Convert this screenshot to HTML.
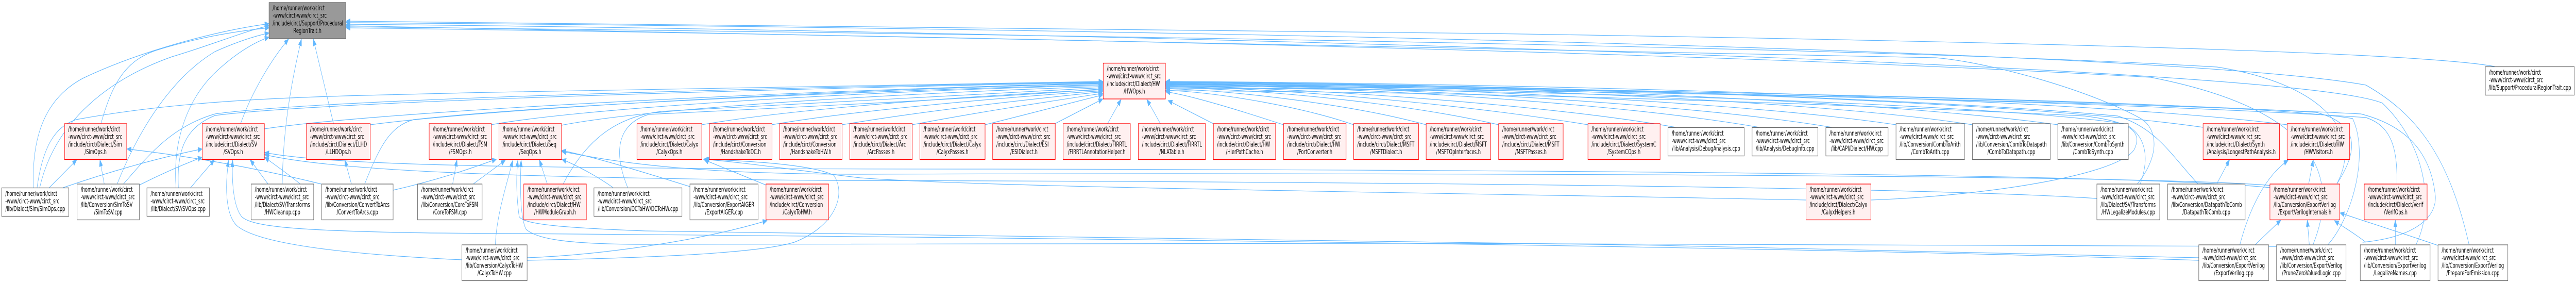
<!DOCTYPE html>
<html>
<head>
<meta charset="utf-8">
<style>
html,body{margin:0;padding:0;background:#fff;width:100%;height:100%;overflow:hidden;}
svg{position:absolute;left:0;top:0;width:100%;height:100%;display:block;}
.r{fill:#fff0f0;stroke:#ff0000;stroke-width:1.3;}
.g{fill:#ffffff;stroke:#666666;stroke-width:1.3;}
.m{fill:#999999;stroke:#666666;stroke-width:1.3;}
text{font-family:"DejaVu Sans","Liberation Sans",sans-serif;font-size:13px;fill:#000;}
.c{text-anchor:middle;}
.e path{fill:none;stroke:#63b8ff;stroke-width:1.2;marker-end:url(#a);}
</style>
</head>
<body>
<svg viewBox="0 0 7785 549" preserveAspectRatio="none" xmlns="http://www.w3.org/2000/svg">
<defs>
<marker id="a" markerWidth="14" markerHeight="11" refX="13" refY="5" orient="auto" markerUnits="userSpaceOnUse">
<path d="M0,0 L13,5 L0,10 z" fill="#63b8ff" stroke="#63b8ff" stroke-width="1"/>
</marker>
</defs>
<rect width="7785" height="549" fill="#fff"/>

<g class="e">
<!-- to main node: left side -->
<path d="M101,364 C95,260 140,190 250,152 C420,100 650,60 813,46"/>
<path d="M305,240 C340,160 380,118 470,98 C600,72 720,60 813,54"/>
<path d="M354,357 C420,250 520,150 650,100 C720,80 770,70 813,64"/>
<path d="M532,364 C520,260 580,180 660,135 C720,100 770,82 813,72"/>
<path d="M120,364 C160,250 300,160 520,110 C650,85 740,60 813,50"/>
<!-- to main node: bottom -->
<path d="M727,240 C760,180 820,115 872,76"/>
<path d="M853,357 C855,250 880,160 911,76"/>
<path d="M1008,240 L947,76"/>
<!-- to main node: right -->
<path d="M7539,129 C7300,100 6000,80 4500,65 C3000,50 1800,42 1046,41"/>
<path d="M7462,475 C7400,300 7300,220 7150,165 C6500,90 3000,52 1046,44"/>
<path d="M7301,475 C7360,400 7330,280 7200,200 C6900,120 3000,58 1046,47"/>
<path d="M6459,357 C6530,300 6520,250 6470,230 C6300,170 6000,120 5850,112 C4000,80 2500,58 1046,50"/>
<path d="M7062,357 C7150,250 7000,160 6700,130 C5500,85 2500,62 1046,52"/>
<path d="M6990,475 C7100,300 6900,200 6500,150 C5000,95 2500,66 1046,54"/>

<!-- to HWOps.h left -->
<path d="M112,364 C130,280 170,245 230,232 C500,200 800,190 1100,185 C2000,170 3000,160 3333,158"/>
<path d="M373,357 C450,300 520,245 650,221 C1000,190 2500,168 3333,159"/>
<path d="M539,364 C535,300 550,250 650,224 C1000,195 2500,170 3333,160"/>
<path d="M799,250 C1100,220 2200,180 3333,161"/>
<path d="M1119,242 C1500,210 2500,175 3333,162"/>
<path d="M1102,357 C1150,280 1180,245 1250,232 C1700,200 2700,175 3333,164"/>
<path d="M1484,242 C1800,205 2800,172 3333,166"/>
<path d="M1697,243 C2000,205 2900,176 3333,168"/>
<path d="M1702,357 C1780,260 1880,225 2000,216 C2600,198 3100,182 3333,170"/>
<path d="M1897,364 C1850,290 1870,240 1960,222 C2500,205 3100,186 3333,172"/>
<path d="M2121,242 C2400,210 3000,183 3333,174"/>
<path d="M2332,242 C2600,212 3100,186 3333,176"/>
<path d="M2545,242 C2800,214 3150,190 3333,178"/>
<path d="M2757,242 C2950,218 3200,194 3333,181"/>
<path d="M2977,242 C3100,222 3250,198 3333,184"/>
<path d="M3188,240 L3333,192"/>
<path d="M3347,240 L3388,193"/>
<path d="M3507,240 L3466,193"/>

<!-- to HWOps.h right -->
<path d="M3667,240 L3530,195"/>
<path d="M3879,242 C3750,215 3600,185 3523,178"/>
<path d="M4091,242 C3950,210 3700,180 3523,175"/>
<path d="M4310,242 C4100,205 3750,176 3523,172"/>
<path d="M4529,242 C4250,200 3800,172 3523,170"/>
<path d="M4799,242 C4400,200 3850,170 3523,168"/>
<path d="M5064,247 C4700,205 4000,172 3523,166"/>
<path d="M5316,247 C4900,200 4100,168 3523,164"/>
<path d="M5536,247 C5100,200 4200,168 3523,163"/>
<path d="M5730,242 C5300,200 4300,166 3523,162"/>
<path d="M5961,242 C5500,195 4400,165 3523,161"/>
<path d="M6219,242 C5700,195 4500,164 3523,160"/>
<path d="M6658,247 C6100,195 4600,163 3523,159"/>
<path d="M6912,242 C6300,192 4700,162 3523,158"/>
<path d="M6643,357 C6560,300 6520,250 6400,225 C5800,190 4600,165 3523,160"/>
<path d="M7062,357 C7130,290 7130,240 7000,218 C6400,195 4700,168 3523,163"/>
<path d="M7244,357 C7245,290 7230,245 7150,228 C6500,200 4800,170 3523,165"/>
<path d="M7035,475 C7110,420 7160,300 7110,230 C6800,195 4800,170 3523,167"/>
<path d="M7140,470 C7300,460 7370,420 7359,375 C7345,300 7280,245 7135,221 C6500,200 4800,172 3523,170"/>
<path d="M6468,357 C6500,300 6480,260 6420,240 C6000,200 4600,172 3523,171"/>
<path d="M5654,388 C6000,380 6400,340 6450,290 C6480,250 6420,235 6300,225 C5500,200 4500,178 3523,176"/>

<!-- Sim / SV -->
<path d="M149,364 L232,310"/>
<path d="M315,357 L302,310"/>
<path d="M971,357 C800,330 600,305 384,289"/>
<path d="M191,364 C300,340 450,310 611,289"/>
<path d="M421,359 C480,340 550,320 611,305"/>
<path d="M576,364 L648,310"/>
<path d="M810,357 L756,310"/>
<path d="M1062,357 L1042,310"/>
<path d="M948,380 C900,350 830,320 800,305"/>
<!-- Seq / FSM -->
<path d="M1188,369 C1350,345 1450,320 1500,309"/>
<path d="M1430,357 L1527,311"/>
<path d="M1368,357 L1381,310"/>
<path d="M1654,357 L1630,310"/>
<path d="M1853,364 C1800,340 1740,320 1698,309"/>
<path d="M1497,475 C1500,420 1530,360 1550,311"/>
<path d="M2085,362 C1950,335 1800,305 1698,292"/>
<!-- Calyx -->
<path d="M2315,359 L2128,310"/>
<path d="M1593,500 C1800,495 2100,470 2318,428"/>
<path d="M1593,505 C2000,500 2300,490 2400,470 C2520,440 2560,380 2520,340 C2450,318 2250,312 2130,309"/>
<path d="M5458,388 C4500,375 3000,365 2600,345 C2400,330 2250,315 2126,309"/>
<!-- long bottom lines -->
<path d="M1396,504 C1100,495 800,478 720,440 C680,420 680,360 691,311"/>
<path d="M6645,505 C5000,470 2000,455 1300,452 C900,448 760,440 730,420 C705,400 700,350 703,311"/>
<path d="M6645,500 C5000,470 2500,450 1950,448 C1700,442 1580,435 1569,420 C1560,380 1560,340 1565,311"/>
<path d="M6880,478 C6700,472 3000,470 1950,474 C1700,474 1620,462 1590,445 C1570,420 1572,350 1575,311"/>
<!-- mid band -->
<path d="M6860,364 C6500,340 5000,330 3000,328 C1500,328 1000,320 800,296"/>
<path d="M6337,385 C5800,362 4000,352 2500,350 C1500,345 1000,330 800,300"/>
<path d="M6865,360 C6500,338 4000,335 2600,338 C2000,338 1800,305 1698,294"/>
<!-- ExportVerilog group -->
<path d="M6815,475 L6893,427"/>
<path d="M6979,475 L6973,427"/>
<path d="M7150,470 C7110,450 7080,440 7055,428"/>
<path d="M7367,476 C7250,450 7150,430 7072,413"/>
<path d="M6977,357 L6991,310"/>
<path d="M6769,475 C6800,400 6850,340 6915,311"/>
<path d="M6699,357 L6738,310"/>
<path d="M7239,475 L7239,427"/>
</g>

<!-- main node -->
<rect class="m" x="813" y="5" width="232" height="70"/>
<text x="824" y="20">/home/runner/work/circt</text>
<text x="824" y="34.7">-www/circt-www/circt_src</text>
<text x="824" y="49.4">/include/circt/Support/Procedural</text>
<text class="c" x="929" y="64.1">RegionTrait.h</text>

<!-- HWOps.h -->
<rect class="r" x="3334" y="122.5" width="188" height="69.5"/>
<text x="3345" y="137.5">/home/runner/work/circt</text>
<text x="3345" y="152.2">-www/circt-www/circt_src</text>
<text x="3345" y="166.9">/include/circt/Dialect/HW</text>
<text class="c" x="3428" y="181.6">/HWOps.h</text>

<!-- ProceduralRegionTrait.cpp -->
<rect class="g" x="7511" y="129.5" width="269" height="55"/>
<text x="7522" y="144.9">/home/runner/work/circt</text>
<text x="7522" y="159.6">-www/circt-www/circt_src</text>
<text class="c" x="7645.5" y="174.3">/lib/Support/ProceduralRegionTrait.cpp</text>

<!-- Row B (4-line, y=240) -->
<rect class="r" x="195" y="240" width="188" height="69.5"/>
<text x="206" y="255">/home/runner/work/circt</text><text x="206" y="269.7">-www/circt-www/circt_src</text><text x="206" y="284.4">/include/circt/Dialect/Sim</text><text class="c" x="289" y="299.1">/SimOps.h</text>

<rect class="r" x="611" y="240" width="188" height="69.5"/>
<text x="622" y="255">/home/runner/work/circt</text><text x="622" y="269.7">-www/circt-www/circt_src</text><text x="622" y="284.4">/include/circt/Dialect/SV</text><text class="c" x="705" y="299.1">/SVOps.h</text>

<rect class="r" x="926" y="240" width="193" height="69.5"/>
<text x="937" y="255">/home/runner/work/circt</text><text x="937" y="269.7">-www/circt-www/circt_src</text><text x="937" y="284.4">/include/circt/Dialect/LLHD</text><text class="c" x="1022.5" y="299.1">/LLHDOps.h</text>

<rect class="r" x="1297" y="240" width="188" height="69.5"/>
<text x="1308" y="255">/home/runner/work/circt</text><text x="1308" y="269.7">-www/circt-www/circt_src</text><text x="1308" y="284.4">/include/circt/Dialect/FSM</text><text class="c" x="1391" y="299.1">/FSMOps.h</text>

<rect class="r" x="1508" y="240" width="189" height="69.5"/>
<text x="1519" y="255">/home/runner/work/circt</text><text x="1519" y="269.7">-www/circt-www/circt_src</text><text x="1519" y="284.4">/include/circt/Dialect/Seq</text><text class="c" x="1602.5" y="299.1">/SeqOps.h</text>

<rect class="r" x="1925" y="240" width="196" height="69.5"/>
<text x="1936" y="255">/home/runner/work/circt</text><text x="1936" y="269.7">-www/circt-www/circt_src</text><text x="1936" y="284.4">/include/circt/Dialect/Calyx</text><text class="c" x="2023" y="299.1">/CalyxOps.h</text>

<rect class="r" x="2144" y="240" width="189" height="69.5"/>
<text x="2155" y="255">/home/runner/work/circt</text><text x="2155" y="269.7">-www/circt-www/circt_src</text><text x="2155" y="284.4">/include/circt/Conversion</text><text class="c" x="2238.5" y="299.1">/HandshakeToDC.h</text>

<rect class="r" x="2356" y="240" width="189" height="69.5"/>
<text x="2367" y="255">/home/runner/work/circt</text><text x="2367" y="269.7">-www/circt-www/circt_src</text><text x="2367" y="284.4">/include/circt/Conversion</text><text class="c" x="2450.5" y="299.1">/HandshakeToHW.h</text>

<rect class="r" x="2568" y="240" width="189" height="69.5"/>
<text x="2579" y="255">/home/runner/work/circt</text><text x="2579" y="269.7">-www/circt-www/circt_src</text><text x="2579" y="284.4">/include/circt/Dialect/Arc</text><text class="c" x="2662.5" y="299.1">/ArcPasses.h</text>

<rect class="r" x="2780" y="240" width="197" height="69.5"/>
<text x="2791" y="255">/home/runner/work/circt</text><text x="2791" y="269.7">-www/circt-www/circt_src</text><text x="2791" y="284.4">/include/circt/Dialect/Calyx</text><text class="c" x="2878.5" y="299.1">/CalyxPasses.h</text>

<rect class="r" x="3000" y="240" width="189" height="69.5"/>
<text x="3011" y="255">/home/runner/work/circt</text><text x="3011" y="269.7">-www/circt-www/circt_src</text><text x="3011" y="284.4">/include/circt/Dialect/ESI</text><text class="c" x="3094.5" y="299.1">/ESIDialect.h</text>

<rect class="r" x="3213" y="240" width="203" height="69.5"/>
<text x="3224" y="255">/home/runner/work/circt</text><text x="3224" y="269.7">-www/circt-www/circt_src</text><text x="3224" y="284.4">/include/circt/Dialect/FIRRTL</text><text class="c" x="3314.5" y="299.1">/FIRRTLAnnotationHelper.h</text>

<rect class="r" x="3440" y="240" width="203" height="69.5"/>
<text x="3451" y="255">/home/runner/work/circt</text><text x="3451" y="269.7">-www/circt-www/circt_src</text><text x="3451" y="284.4">/include/circt/Dialect/FIRRTL</text><text class="c" x="3541.5" y="299.1">/NLATable.h</text>

<rect class="r" x="3667" y="240" width="188" height="69.5"/>
<text x="3678" y="255">/home/runner/work/circt</text><text x="3678" y="269.7">-www/circt-www/circt_src</text><text x="3678" y="284.4">/include/circt/Dialect/HW</text><text class="c" x="3761" y="299.1">/HierPathCache.h</text>

<rect class="r" x="3879" y="240" width="189" height="69.5"/>
<text x="3890" y="255">/home/runner/work/circt</text><text x="3890" y="269.7">-www/circt-www/circt_src</text><text x="3890" y="284.4">/include/circt/Dialect/HW</text><text class="c" x="3973.5" y="299.1">/PortConverter.h</text>

<rect class="r" x="4091" y="240" width="196" height="69.5"/>
<text x="4102" y="255">/home/runner/work/circt</text><text x="4102" y="269.7">-www/circt-www/circt_src</text><text x="4102" y="284.4">/include/circt/Dialect/MSFT</text><text class="c" x="4189" y="299.1">/MSFTDialect.h</text>

<rect class="r" x="4310" y="240" width="195" height="69.5"/>
<text x="4321" y="255">/home/runner/work/circt</text><text x="4321" y="269.7">-www/circt-www/circt_src</text><text x="4321" y="284.4">/include/circt/Dialect/MSFT</text><text class="c" x="4407.5" y="299.1">/MSFTOpInterfaces.h</text>

<rect class="r" x="4529" y="240" width="195" height="69.5"/>
<text x="4540" y="255">/home/runner/work/circt</text><text x="4540" y="269.7">-www/circt-www/circt_src</text><text x="4540" y="284.4">/include/circt/Dialect/MSFT</text><text class="c" x="4626.5" y="299.1">/MSFTPasses.h</text>

<rect class="r" x="4799" y="240" width="218" height="69.5"/>
<text x="4810" y="255">/home/runner/work/circt</text><text x="4810" y="269.7">-www/circt-www/circt_src</text><text x="4810" y="284.4">/include/circt/Dialect/SystemC</text><text class="c" x="4908" y="299.1">/SystemCOps.h</text>

<rect class="g" x="5041" y="247.5" width="230" height="55"/>
<text x="5052" y="262.9">/home/runner/work/circt</text><text x="5052" y="277.6">-www/circt-www/circt_src</text><text class="c" x="5156" y="292.3">/lib/Analysis/DebugAnalysis.cpp</text>

<rect class="g" x="5295" y="247.5" width="199" height="55"/>
<text x="5306" y="262.9">/home/runner/work/circt</text><text x="5306" y="277.6">-www/circt-www/circt_src</text><text class="c" x="5394.5" y="292.3">/lib/Analysis/DebugInfo.cpp</text>

<rect class="g" x="5518" y="247.5" width="188" height="55"/>
<text x="5529" y="262.9">/home/runner/work/circt</text><text x="5529" y="277.6">-www/circt-www/circt_src</text><text class="c" x="5612" y="292.3">/lib/CAPI/Dialect/HW.cpp</text>

<rect class="g" x="5730" y="240" width="207" height="69.5"/>
<text x="5741" y="255">/home/runner/work/circt</text><text x="5741" y="269.7">-www/circt-www/circt_src</text><text x="5741" y="284.4">/lib/Conversion/CombToArith</text><text class="c" x="5833.5" y="299.1">/CombToArith.cpp</text>

<rect class="g" x="5961" y="240" width="235" height="69.5"/>
<text x="5972" y="255">/home/runner/work/circt</text><text x="5972" y="269.7">-www/circt-www/circt_src</text><text x="5972" y="284.4">/lib/Conversion/CombToDatapath</text><text class="c" x="6078.5" y="299.1">/CombToDatapath.cpp</text>

<rect class="g" x="6219" y="240" width="213" height="69.5"/>
<text x="6230" y="255">/home/runner/work/circt</text><text x="6230" y="269.7">-www/circt-www/circt_src</text><text x="6230" y="284.4">/lib/Conversion/CombToSynth</text><text class="c" x="6325.5" y="299.1">/CombToSynth.cpp</text>

<rect class="r" x="6658" y="240" width="231" height="69.5"/>
<text x="6669" y="255">/home/runner/work/circt</text><text x="6669" y="269.7">-www/circt-www/circt_src</text><text x="6669" y="284.4">/include/circt/Dialect/Synth</text><text class="c" x="6773.5" y="299.1">/Analysis/LongestPathAnalysis.h</text>

<rect class="r" x="6912" y="240" width="189" height="69.5"/>
<text x="6923" y="255">/home/runner/work/circt</text><text x="6923" y="269.7">-www/circt-www/circt_src</text><text x="6923" y="284.4">/include/circt/Dialect/HW</text><text class="c" x="7006.5" y="299.1">/HWVisitors.h</text>

<!-- Row C (y=357) -->
<rect class="g" x="5" y="364.5" width="203" height="55"/>
<text x="16" y="379.9">/home/runner/work/circt</text><text x="16" y="394.6">-www/circt-www/circt_src</text><text class="c" x="106.5" y="409.3">/lib/Dialect/Sim/SimOps.cpp</text>

<rect class="g" x="233" y="357" width="188" height="69.5"/>
<text x="244" y="372">/home/runner/work/circt</text><text x="244" y="386.7">-www/circt-www/circt_src</text><text x="244" y="401.4">/lib/Conversion/SimToSV</text><text class="c" x="327" y="416.1">/SimToSV.cpp</text>

<rect class="g" x="444" y="364.5" width="189" height="55"/>
<text x="455" y="379.9">/home/runner/work/circt</text><text x="455" y="394.6">-www/circt-www/circt_src</text><text class="c" x="538.5" y="409.3">/lib/Dialect/SV/SVOps.cpp</text>

<rect class="g" x="759" y="357" width="189" height="69.5"/>
<text x="770" y="372">/home/runner/work/circt</text><text x="770" y="386.7">-www/circt-www/circt_src</text><text x="770" y="401.4">/lib/Dialect/SV/Transforms</text><text class="c" x="853.5" y="416.1">/HWCleanup.cpp</text>

<rect class="g" x="972" y="357" width="216" height="69.5"/>
<text x="983" y="372">/home/runner/work/circt</text><text x="983" y="386.7">-www/circt-www/circt_src</text><text x="983" y="401.4">/lib/Conversion/ConvertToArcs</text><text class="c" x="1080" y="416.1">/ConvertToArcs.cpp</text>

<rect class="g" x="1262" y="357" width="195" height="69.5"/>
<text x="1273" y="372">/home/runner/work/circt</text><text x="1273" y="386.7">-www/circt-www/circt_src</text><text x="1273" y="401.4">/lib/Conversion/CoreToFSM</text><text class="c" x="1359.5" y="416.1">/CoreToFSM.cpp</text>

<rect class="r" x="1583" y="357" width="189" height="69.5"/>
<text x="1594" y="372">/home/runner/work/circt</text><text x="1594" y="386.7">-www/circt-www/circt_src</text><text x="1594" y="401.4">/include/circt/Dialect/HW</text><text class="c" x="1677.5" y="416.1">/HWModuleGraph.h</text>

<rect class="g" x="1795" y="364.5" width="266" height="55"/>
<text x="1806" y="379.9">/home/runner/work/circt</text><text x="1806" y="394.6">-www/circt-www/circt_src</text><text class="c" x="1928" y="409.3">/lib/Conversion/DCToHW/DCToHW.cpp</text>

<rect class="g" x="2085" y="357" width="206" height="69.5"/>
<text x="2096" y="372">/home/runner/work/circt</text><text x="2096" y="386.7">-www/circt-www/circt_src</text><text x="2096" y="401.4">/lib/Conversion/ExportAIGER</text><text class="c" x="2188" y="416.1">/ExportAIGER.cpp</text>

<rect class="r" x="2315" y="357" width="189" height="69.5"/>
<text x="2326" y="372">/home/runner/work/circt</text><text x="2326" y="386.7">-www/circt-www/circt_src</text><text x="2326" y="401.4">/include/circt/Conversion</text><text class="c" x="2409.5" y="416.1">/CalyxToHW.h</text>

<rect class="r" x="5458" y="357" width="196" height="69.5"/>
<text x="5469" y="372">/home/runner/work/circt</text><text x="5469" y="386.7">-www/circt-www/circt_src</text><text x="5469" y="401.4">/include/circt/Dialect/Calyx</text><text class="c" x="5556" y="416.1">/CalyxHelpers.h</text>

<rect class="g" x="6337" y="357" width="190" height="69.5"/>
<text x="6348" y="372">/home/runner/work/circt</text><text x="6348" y="386.7">-www/circt-www/circt_src</text><text x="6348" y="401.4">/lib/Dialect/SV/Transforms</text><text class="c" x="6432" y="416.1">/HWLegalizeModules.cpp</text>

<rect class="g" x="6551" y="357" width="234" height="69.5"/>
<text x="6562" y="372">/home/runner/work/circt</text><text x="6562" y="386.7">-www/circt-www/circt_src</text><text x="6562" y="401.4">/lib/Conversion/DatapathToComb</text><text class="c" x="6668" y="416.1">/DatapathToComb.cpp</text>

<rect class="r" x="6860" y="357" width="211" height="69.5"/>
<text x="6871" y="372">/home/runner/work/circt</text><text x="6871" y="386.7">-www/circt-www/circt_src</text><text x="6871" y="401.4">/lib/Conversion/ExportVerilog</text><text class="c" x="6965.5" y="416.1">/ExportVerilogInternals.h</text>

<rect class="r" x="7145" y="357" width="190" height="69.5"/>
<text x="7156" y="372">/home/runner/work/circt</text><text x="7156" y="386.7">-www/circt-www/circt_src</text><text x="7156" y="401.4">/include/circt/Dialect/Verif</text><text class="c" x="7240" y="416.1">/VerifOps.h</text>

<!-- Row D (y=475) -->
<rect class="g" x="1396" y="475" width="197" height="69.5"/>
<text x="1407" y="490">/home/runner/work/circt</text><text x="1407" y="504.7">-www/circt-www/circt_src</text><text x="1407" y="519.4">/lib/Conversion/CalyxToHW</text><text class="c" x="1494.5" y="534.1">/CalyxToHW.cpp</text>

<rect class="g" x="6645" y="475" width="211" height="69.5"/>
<text x="6656" y="490">/home/runner/work/circt</text><text x="6656" y="504.7">-www/circt-www/circt_src</text><text x="6656" y="519.4">/lib/Conversion/ExportVerilog</text><text class="c" x="6750.5" y="534.1">/ExportVerilog.cpp</text>

<rect class="g" x="6880" y="475" width="210" height="69.5"/>
<text x="6891" y="490">/home/runner/work/circt</text><text x="6891" y="504.7">-www/circt-www/circt_src</text><text x="6891" y="519.4">/lib/Conversion/ExportVerilog</text><text class="c" x="6985" y="534.1">/PruneZeroValuedLogic.cpp</text>

<rect class="g" x="7133" y="475" width="211" height="69.5"/>
<text x="7144" y="490">/home/runner/work/circt</text><text x="7144" y="504.7">-www/circt-www/circt_src</text><text x="7144" y="519.4">/lib/Conversion/ExportVerilog</text><text class="c" x="7238.5" y="534.1">/LegalizeNames.cpp</text>

<rect class="g" x="7368" y="475" width="211" height="69.5"/>
<text x="7379" y="490">/home/runner/work/circt</text><text x="7379" y="504.7">-www/circt-www/circt_src</text><text x="7379" y="519.4">/lib/Conversion/ExportVerilog</text><text class="c" x="7473.5" y="534.1">/PrepareForEmission.cpp</text>
</svg>
</body>
</html>
